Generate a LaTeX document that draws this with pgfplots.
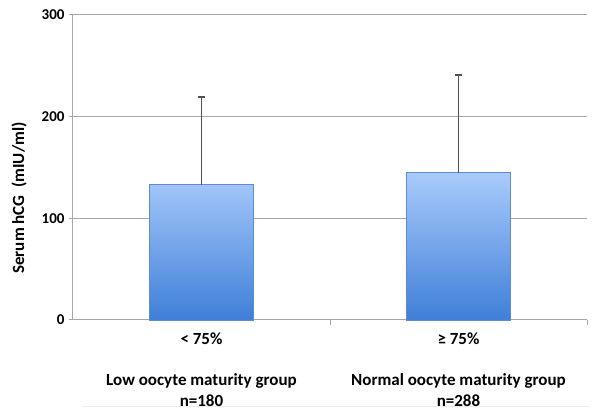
\documentclass[border=0pt]{standalone}
\usepackage{pgfplots}
\pgfplotsset{compat=1.18}
\usepackage{fontspec}
\setmainfont{Carlito}
\definecolor{gridgray}{HTML}{A6A6A6}
\definecolor{bartop}{HTML}{A9CBFB}
\definecolor{barbot}{HTML}{3F7FD8}
\definecolor{baredge}{HTML}{5C8CD4}
\definecolor{errgray}{HTML}{505050}
\begin{document}
\begin{tikzpicture}[x=1pt,y=1pt]
\path[use as bounding box] (0,0) rectangle (600,412);
\draw[gray!15, line width=0.8pt] (82,6) -- (590,6);
\begin{axis}[
  at={(73pt,92pt)}, anchor=south west,
  scale only axis, width=514pt, height=305pt,
  xmin=-0.5, xmax=1.5, ymin=0, ymax=300,
  axis x line*=bottom, axis y line*=left,
  axis line style={gridgray, line width=1pt},
  ytick={0,100,200,300},
  ymajorgrids, grid style={gridgray, line width=1pt},
  xtick={0,1}, xticklabels={< 75\%, ≥ 75\%},
  minor xtick={0.5,1.5},
  minor tick length=5pt, major tick length=4pt,
  tick align=outside,
  every tick/.style={gridgray, line width=1pt},
  major x tick style={draw=none},
  /pgf/number format/assume math mode=true,
  yticklabel style={xshift=-1pt, font=\bfseries\fontsize{15}{17}\selectfont},
  xticklabel style={yshift=-5pt, font=\bfseries\fontsize{17}{19}\selectfont},
  ylabel={Serum hCG\ \ (mIU/ml)},
  ylabel style={at={(axis description cs:-0.105,0.40)}, anchor=center,
    font=\bfseries\fontsize{17}{19}\selectfont},
  clip=false,
]
\addplot[ybar, bar width=0.405, bar shift=0pt, top color=bartop, bottom color=barbot, draw=baredge, line width=0.8pt]
  coordinates {(0,133) (1,145)};
\addplot[draw=none, mark=none,
  error bars/.cd, y dir=plus, y explicit,
  error bar style={errgray, line width=1.2pt},
  error mark options={rotate=90, mark size=3.5pt, line width=2pt, errgray}]
  coordinates {(0,133) +- (0,86) (1,145) +- (0,96)};
\node[font=\bfseries\fontsize{17}{21}\selectfont, align=center] at (axis cs:0,-69) {Low oocyte maturity group\\n=180};
\node[font=\bfseries\fontsize{17}{21}\selectfont, align=center] at (axis cs:1,-69) {Normal oocyte maturity group\\n=288};
\end{axis}
\end{tikzpicture}
\end{document}
